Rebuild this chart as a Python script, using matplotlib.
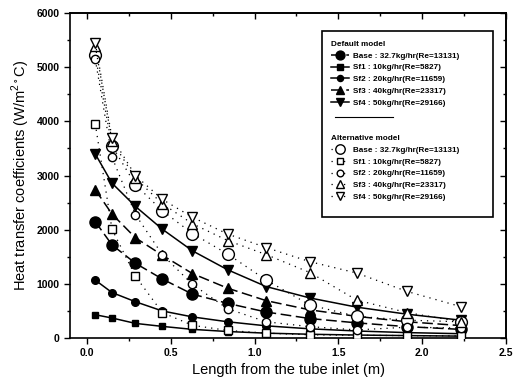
import matplotlib
matplotlib.use("Agg")
import matplotlib.pyplot as plt
from matplotlib.lines import Line2D
from matplotlib.patches import Rectangle
from matplotlib.ticker import MultipleLocator

plt.rcParams["font.family"] = ["Liberation Sans", "DejaVu Sans"]

# positions along the tube (m)
length = [0.05, 0.15, 0.29, 0.45, 0.63, 0.84, 1.07, 1.33, 1.61, 1.91, 2.23]

# default model (filled markers)
base_def = [2150, 1720, 1380, 1090, 810, 640, 480, 360, 280, 210, 160]
sf1_def = [430, 370, 270, 215, 160, 120, 90, 70, 55, 45, 35]
sf2_def = [1070, 840, 670, 500, 390, 300, 225, 170, 130, 100, 80]
sf3_def = [2740, 2290, 1850, 1530, 1190, 920, 690, 520, 400, 300, 230]
sf4_def = [3400, 2860, 2430, 2010, 1610, 1260, 950, 740, 570, 440, 330]

# alternative model (open markers)
base_alt = [5220, 3550, 2830, 2350, 1930, 1550, 1070, 610, 400, 330, 300]
sf1_alt = [3960, 2010, 1140, 470, 235, 140, 90, 60, 50, 45, 40]
sf2_alt = [5150, 3340, 2280, 1540, 990, 540, 300, 210, 150, 200, 185]
sf3_alt = [5400, 3640, 2950, 2480, 2110, 1800, 1540, 1210, 700, 470, 300]
sf4_alt = [5450, 3700, 3000, 2560, 2230, 1920, 1670, 1410, 1200, 860, 580]

labels = [
    "Base : 32.7kg/hr(Re=13131)",
    "Sf1 : 10kg/hr(Re=5827)",
    "Sf2 : 20kg/hr(Re=11659)",
    "Sf3 : 40kg/hr(Re=23317)",
    "Sf4 : 50kg/hr(Re=29166)",
]

fig = plt.figure(figsize=(5.19, 3.85), dpi=100)
ax = fig.add_axes([0.135, 0.122, 0.840, 0.844])

dash = (0, (7, 3))
default_styles = [
    (base_def, "o", 8, dash),
    (sf1_def, "s", 5, "-"),
    (sf2_def, "o", 5.5, "-"),
    (sf3_def, "^", 6.5, dash),
    (sf4_def, "v", 6.5, "-"),
]
alt_styles = [
    (base_alt, "o", 8.5),
    (sf1_alt, "s", 5.5),
    (sf2_alt, "o", 6),
    (sf3_alt, "^", 7),
    (sf4_alt, "v", 7),
]

dotted = (0, (1, 4))
def_handles = []
for (vals, mk, ms, ls), lab in zip(default_styles, labels):
    (h,) = ax.plot(length, vals, color="black", lw=1.1, ls=ls, marker=mk,
                   ms=ms, mfc="black", mec="black", label=lab, zorder=3)
    def_handles.append(h)

alt_handles = []
for (vals, mk, ms), lab in zip(alt_styles, labels):
    (h,) = ax.plot(length, vals, color="black", lw=0.9, ls=dotted, marker=mk,
                   ms=ms, mfc="white", mec="black", mew=1.0, label=lab, zorder=4)
    alt_handles.append(h)

ax.set_xlim(-0.1, 2.5)
ax.set_ylim(0, 6000)
ax.xaxis.set_major_locator(MultipleLocator(0.5))
ax.xaxis.set_minor_locator(MultipleLocator(0.25))
ax.yaxis.set_major_locator(MultipleLocator(1000))
ax.yaxis.set_minor_locator(MultipleLocator(500))
ax.xaxis.set_major_formatter(plt.FormatStrFormatter("%.1f"))
ax.tick_params(which="both", direction="out", top=False, right=False,
               labelsize=7.5, width=1.0)
ax.tick_params(which="major", length=4)
ax.tick_params(which="minor", length=2.5)
for t in ax.get_xticklabels() + ax.get_yticklabels():
    t.set_fontweight("bold")

# inward ticks on the top and right sides
sec_x = ax.secondary_xaxis("top")
sec_x.xaxis.set_major_locator(MultipleLocator(0.5))
sec_x.xaxis.set_minor_locator(MultipleLocator(0.25))
sec_x.tick_params(which="both", direction="in", labeltop=False, width=1.0)
sec_x.tick_params(which="major", length=4)
sec_x.tick_params(which="minor", length=2.5)
sec_y = ax.secondary_yaxis("right")
sec_y.yaxis.set_major_locator(MultipleLocator(1000))
sec_y.yaxis.set_minor_locator(MultipleLocator(500))
sec_y.tick_params(which="both", direction="in", labelright=False, width=1.0)
sec_y.tick_params(which="major", length=4)
sec_y.tick_params(which="minor", length=2.5)

for sp in ax.spines.values():
    sp.set_linewidth(1.2)
sec_x.spines["top"].set_linewidth(1.2)
sec_y.spines["right"].set_linewidth(1.2)

ax.set_xlabel("Length from the tube inlet (m)", fontsize=10.5, labelpad=3)
ax.set_ylabel("Heat transfer coefficients (W/m$^{\\mathregular{2\\circ}}$C)",
              fontsize=10.5, labelpad=3)

# legend box with the two groups
ax.add_patch(Rectangle((0.578, 0.372), 0.392, 0.573, transform=ax.transAxes,
                       fill=False, lw=1.2, ec="black", zorder=5))
leg_kw = dict(frameon=False, handlelength=2.2, handletextpad=0.5,
              labelspacing=0.5, borderaxespad=0, markerscale=0.8,
              alignment="left", prop={"weight": "bold", "size": 5.9})
leg1 = ax.legend(handles=def_handles, loc="upper left",
                 bbox_to_anchor=(0.59, 0.925), title="Default model", **leg_kw)
leg1.get_title().set_fontweight("bold")
leg1.get_title().set_fontsize(5.9)
ax.add_artist(leg1)
leg2 = ax.legend(handles=alt_handles, loc="upper left",
                 bbox_to_anchor=(0.59, 0.635), title="Alternative model", **leg_kw)
leg2.get_title().set_fontweight("bold")
leg2.get_title().set_fontsize(5.9)
ax.add_line(Line2D([0.608, 0.741], [0.681, 0.681], transform=ax.transAxes,
                   color="black", lw=0.8, zorder=5))

fig.savefig("out.png", dpi=100)
